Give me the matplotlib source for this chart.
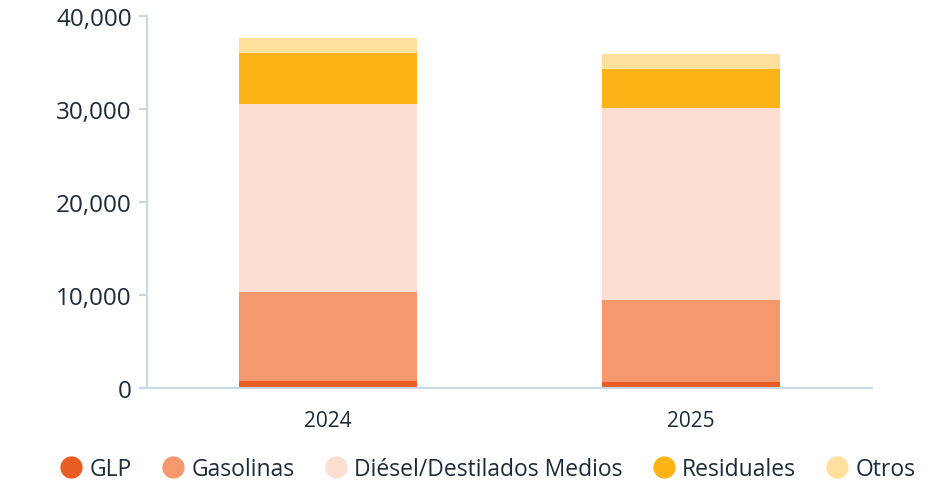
import matplotlib.pyplot as plt
from matplotlib.ticker import FuncFormatter
from matplotlib.lines import Line2D

plt.rcParams['font.family'] = ['Open Sans', 'DejaVu Sans']

years = ['2024', '2025']
categories = ['GLP', 'Gasolinas', 'Diésel/Destilados Medios', 'Residuales', 'Otros']
glp = [720, 610]
gasolinas = [9570, 8820]
diesel = [20210, 20645]
residuales = [5520, 4195]
otros = [1580, 1610]
colors = ['#E95D22', '#F4996D', '#FDDED3', '#FCB315', '#FEE09C']

series = [glp, gasolinas, diesel, residuales, otros]

fig = plt.figure(figsize=(9.32, 4.85), dpi=100)
ax = fig.add_axes([147 / 932, 1 - 389 / 485, (872 - 147) / 932, (389 - 17) / 485])

x = range(len(years))
bottom = [0, 0]
for vals, c in zip(series, colors):
    ax.bar(x, vals, bottom=bottom, width=0.49, color=c, linewidth=0)
    bottom = [b + v for b, v in zip(bottom, vals)]

ax.set_xlim(-0.5, 1.5)
ax.set_ylim(0, 40000)
ax.set_yticks([0, 10000, 20000, 30000, 40000])
ax.yaxis.set_major_formatter(FuncFormatter(lambda v, p: f'{int(v):,}'))
ax.set_xticks(list(x))
ax.set_xticklabels(years)

text_color = '#1d2a3a'
spine_color = '#c5d9e8'
for s in ['top', 'right']:
    ax.spines[s].set_visible(False)
for s in ['left', 'bottom']:
    ax.spines[s].set_color(spine_color)
    ax.spines[s].set_linewidth(1.5)
ax.tick_params(axis='y', colors=spine_color, labelcolor=text_color, labelsize=17.5, length=6, width=1.5, pad=5)
ax.tick_params(axis='x', length=0, labelcolor=text_color, labelsize=15, pad=16)

handles = [Line2D([], [], marker='o', linestyle='', markersize=15, color=c) for c in colors]
fig.legend(handles, categories, loc='center', bbox_to_anchor=(487 / 932, 1 - 470 / 485),
           ncol=5, frameon=False, fontsize=16.5, labelcolor=text_color,
           handletextpad=0.25, columnspacing=1.25, handlelength=1.1)

fig.savefig('out.png', dpi=100)
